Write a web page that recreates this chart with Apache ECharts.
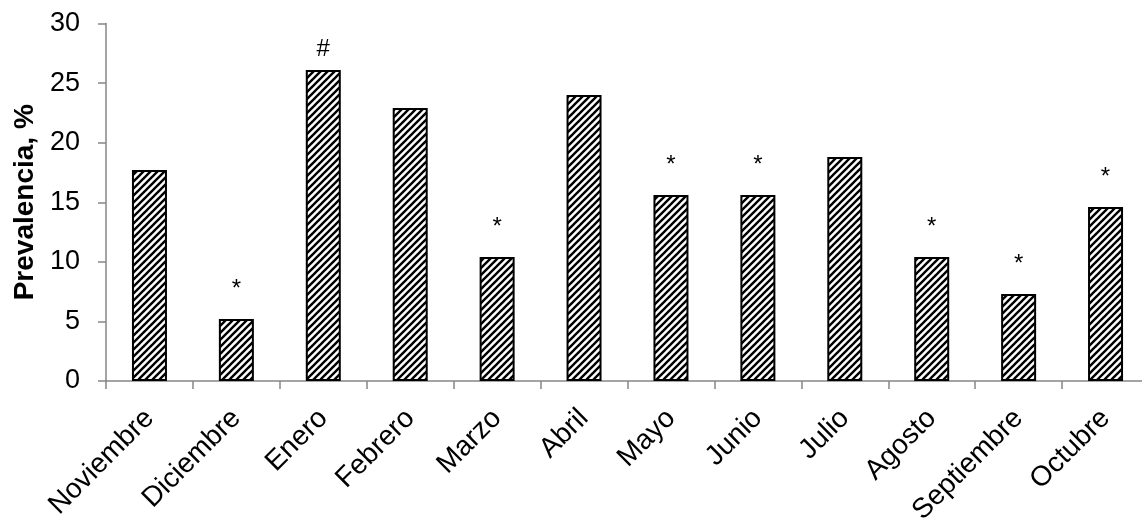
<!DOCTYPE html>
<html>
<head>
<meta charset="utf-8">
<script src="https://cdn.jsdelivr.net/npm/echarts@6/dist/echarts.min.js"></script>
<style>
  html, body { margin: 0; padding: 0; background: #fff; }
  #chart { width: 1142px; height: 518px; }
</style>
</head>
<body>
<div id="chart"></div>
<script>
// Monthly prevalence (%) with significance marks above the bars
const months = ['Noviembre', 'Diciembre', 'Enero', 'Febrero', 'Marzo', 'Abril',
                'Mayo', 'Junio', 'Julio', 'Agosto', 'Septiembre', 'Octubre'];
const prevalence = [17.7, 5.2, 26.1, 22.9, 10.4, 24.0, 15.6, 15.6, 18.8, 10.4, 7.3, 14.6];
const marks = ['', '*', '#', '', '*', '', '*', '*', '', '*', '*', '*'];
const yTicks = [0, 5, 10, 15, 20, 25, 30];

// Gap between bar top and its mark; the asterisk glyph sits high in its box
const markGap = { '*': 18, '#': 9 };

// Diagonal black/white hatch tile used as the bar fill
function hatchTile() {
  const s = 7;
  const c = document.createElement('canvas');
  c.width = s; c.height = s;
  const g = c.getContext('2d');
  g.fillStyle = '#fff';
  g.fillRect(0, 0, s, s);
  g.strokeStyle = '#000';
  g.lineWidth = 2.4;
  for (const k of [0, s, 2 * s]) {
    g.beginPath();
    g.moveTo(-1, k + 1);
    g.lineTo(k + 1, -1);
    g.stroke();
  }
  return c;
}

const font = '"Liberation Sans", Arial, sans-serif';
const axisGray = '#868686';
const chart = echarts.init(document.getElementById('chart'), null, { renderer: 'canvas' });

const barData = prevalence.map((v, i) => ({
  value: v,
  label: { distance: markGap[marks[i]] || 0 }
}));

chart.setOption({
  animation: false,
  grid: {
    left: 106, right: -7, top: 23.5, bottom: 137,
    containLabel: false,
    outerBoundsMode: 'none'
  },
  xAxis: {
    type: 'category',
    data: months,
    boundaryGap: true,
    axisLine: { lineStyle: { color: axisGray, width: 1.5 } },
    axisTick: { show: true, alignWithLabel: false, length: 8, lineStyle: { color: axisGray, width: 1.5 } },
    axisLabel: {
      rotate: 45, interval: 0, margin: 33,
      fontFamily: font, fontSize: 28, color: '#000'
    },
    splitLine: { show: false }
  },
  yAxis: {
    type: 'value',
    min: yTicks[0], max: yTicks[yTicks.length - 1], interval: 5,
    name: 'Prevalencia, %',
    nameLocation: 'middle',
    nameGap: 66,
    nameTextStyle: { fontFamily: font, fontSize: 28, fontWeight: 'bold', color: '#000' },
    axisLine: { show: true, lineStyle: { color: axisGray, width: 1.5 } },
    axisTick: { show: true, length: 8, lineStyle: { color: axisGray, width: 1.5 } },
    axisLabel: { margin: 26, fontFamily: font, fontSize: 27, color: '#000' },
    splitLine: { show: false }
  },
  series: [{
    type: 'bar',
    data: barData,
    barWidth: 35,
    itemStyle: {
      color: { image: hatchTile(), repeat: 'repeat' },
      borderColor: '#000',
      borderWidth: 2
    },
    label: {
      show: true,
      position: 'top',
      fontFamily: font,
      fontSize: 24,
      color: '#000',
      formatter: p => marks[p.dataIndex]
    }
  }]
});
</script>
</body>
</html>
